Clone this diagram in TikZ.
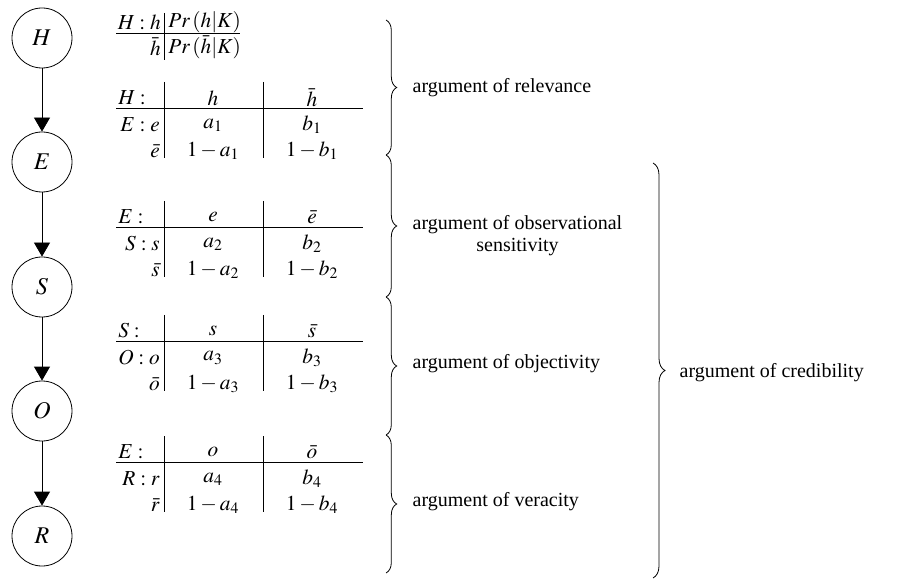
\documentclass[tikz,border=0pt]{standalone}
\usepackage{mathptmx}
\usepackage[no-math]{fontspec}
\setmainfont{Liberation Serif}
\usetikzlibrary{arrows.meta, positioning, decorations.pathreplacing}

\begin{document}
\begin{tikzpicture}[x=0.75pt, y=-0.75pt, font=\fontsize{15}{18}\selectfont,
  var/.style={circle, draw, minimum size=45pt, inner sep=0pt, line width=0.6pt,
    font=\fontsize{18}{20}\selectfont},
  link/.style={-{Triangle[width=12pt, length=10.5pt]}, line width=0.6pt},
  rule/.style={line width=0.6pt},
  curly/.style={decorate, decoration={brace, amplitude=#1}, line width=0.6pt},
  cell/.style={inner sep=0pt, font=\fontsize{16}{18}\selectfont}]
  \useasboundingbox (0,0) rectangle (905,580);

  % Chain of variables
  \node[var] (H) at (42,38)  {$H$};
  \node[var] (E) at (42,162) {$E$};
  \node[var] (S) at (42,287) {$S$};
  \node[var] (O) at (42,411) {$O$};
  \node[var] (R) at (42,536) {$R$};
  \draw[link] (H) -- (E);
  \draw[link] (E) -- (S);
  \draw[link] (S) -- (O);
  \draw[link] (O) -- (R);

  % Prior of H
  \node[cell, anchor=east] (pH)  at (161,22) {$H:h$};
  \node[cell, anchor=east] (pHb) at (161,47) {$\bar{h}$};
  \node[cell, anchor=west] (ph)  at (168,22) {$Pr\,(h|K)$};
  \node[cell, anchor=west] (phb) at (168,47) {$Pr\,(\bar{h}|K)$};
  \draw[rule] (116,33) -- (240,33);
  \draw[rule] (164,13) -- (164,60);

  % Conditional tables
  \foreach \y/\pa/\pv/\pvb/\cl/\cvb/\k in {108/H/h/\bar{h}/E:e/\bar{e}/1,
      227/E/e/\bar{e}/S:s/\bar{s}/2, 341/S/s/\bar{s}/O:o/\bar{o}/3,
      462/E/o/\bar{o}/R:r/\bar{r}/4} {
    \node[cell, anchor=west] (t\k-pa) at (118,\y-10) {$\pa:$};
    \node[cell] (t\k-pv)  at (213,\y-10) {$\pv$};
    \node[cell] (t\k-pvb) at (312,\y-10) {$\pvb$};
    \node[cell, anchor=east] (t\k-cl)  at (160,\y+17) {$\cl$};
    \node[cell, anchor=east] (t\k-cvb) at (160,\y+43) {$\cvb$};
    \node[cell] (t\k-a)  at (213,\y+17) {$a_{\k}$};
    \node[cell] (t\k-b)  at (312,\y+17) {$b_{\k}$};
    \node[cell] (t\k-na) at (213,\y+43) {$1-a_{\k}$};
    \node[cell] (t\k-nb) at (312,\y+43) {$1-b_{\k}$};
    \draw[rule] (116,\y) -- (363,\y);
    \draw[rule] (164,\y-26) -- (164,\y+50);
    \draw[rule] (263,\y-26) -- (263,\y+50);
  }

  % Braces and their arguments
  \draw[curly=8pt] (386,20)  -- (386,155);
  \draw[curly=8pt] (386,155) -- (386,297);
  \draw[curly=8pt] (386,297) -- (386,435);
  \draw[curly=8pt] (386,435) -- (386,573);
  \draw[curly=9pt] (653,163) -- (653,578);
  \node[anchor=west] (rel) at (408,88) {argument of relevance};
  \node[anchor=west, align=center, font=\fontsize{15}{16.5}\selectfont] (sen) at (408,236)
    {argument of observational\\sensitivity};
  \node[anchor=west] (obj) at (408,364) {argument of objectivity};
  \node[anchor=west] (ver) at (408,502) {argument of veracity};
  \node[anchor=west] (cre) at (675,373) {argument of credibility};
\end{tikzpicture}
\end{document}
